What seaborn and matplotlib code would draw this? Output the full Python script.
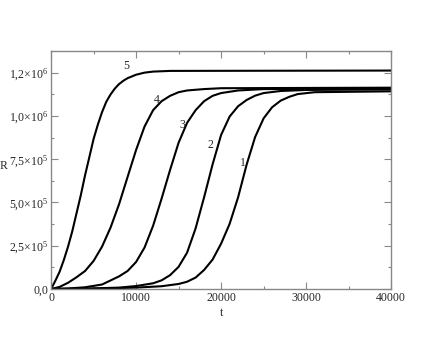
import pandas as pd
import matplotlib
matplotlib.use('Agg')
import matplotlib.pyplot as plt
import seaborn as sns
from matplotlib.ticker import MultipleLocator, FixedLocator, FixedFormatter

# curves (t, R)
t1 = [0, 5000, 10000, 13000, 15000, 16000, 17000, 18000, 19000, 20000, 21000, 22000,
      23000, 24000, 25000, 26000, 27000, 28000, 29000, 31000, 40000]
r1 = [0, 2e3, 8e3, 16e3, 29e3, 42e3, 66e3, 110e3, 170e3, 262e3, 376e3, 530e3,
      718e3, 878e3, 986e3, 1050e3, 1088e3, 1110e3, 1126e3, 1137e3, 1142e3]

t2 = [0, 4000, 8000, 10000, 12000, 13000, 14000, 15000, 16000, 17000, 18000, 19000,
      20000, 21000, 22000, 23000, 24000, 25000, 27000, 30000, 40000]
r2 = [0, 2e3, 8e3, 17e3, 33e3, 50e3, 80e3, 128e3, 210e3, 350e3, 530e3, 720e3,
      890e3, 996e3, 1056e3, 1092e3, 1117e3, 1132e3, 1144e3, 1150e3, 1153e3]

t3 = [0, 2000, 4000, 6000, 8000, 9000, 10000, 11000, 12000, 13000, 14000, 15000,
      16000, 17000, 18000, 19000, 20000, 22000, 25000, 40000]
r3 = [0, 3e3, 10e3, 26e3, 73e3, 104e3, 156e3, 240e3, 365e3, 522e3, 688e3, 845e3,
      960e3, 1033e3, 1085e3, 1116e3, 1132e3, 1147e3, 1155e3, 1158e3]

t4 = [0, 1000, 2000, 3000, 4000, 5000, 6000, 7000, 8000, 9000, 10000, 11000,
      12000, 13000, 14000, 15000, 16000, 18000, 20000, 40000]
r4 = [0, 12e3, 36e3, 68e3, 104e3, 162e3, 245e3, 355e3, 490e3, 647e3, 803e3, 939e3,
      1033e3, 1085e3, 1116e3, 1137e3, 1147e3, 1155e3, 1160e3, 1163e3]

t5 = [0, 500, 1000, 1500, 2000, 2500, 3000, 3500, 4000, 4500, 5000, 5500, 6000,
      6500, 7000, 7500, 8000, 8500, 9000, 10000, 11000, 12000, 14000, 40000]
r5 = [0, 47e3, 99e3, 167e3, 245e3, 334e3, 438e3, 542e3, 657e3, 761e3, 866e3, 949e3,
      1022e3, 1082e3, 1124e3, 1158e3, 1184e3, 1203e3, 1218e3, 1238e3, 1250e3, 1256e3,
      1260e3, 1262e3]

curve_names = ['1', '2', '3', '4', '5']
label_t = [22600, 18700, 15500, 12400, 8900]
label_r = [728e3, 834e3, 948e3, 1091e3, 1286e3]

ytick_vals = [0, 2.5e5, 5e5, 7.5e5, 1e6, 1.25e6]
ytick_text = ['0,0', '2,5\u00d710$^{5}$', '5,0\u00d710$^{5}$', '7,5\u00d710$^{5}$',
              '1,0\u00d710$^{6}$', '1,2\u00d710$^{6}$']

sns.set_style('ticks')
plt.rcParams['font.family'] = ['Liberation Serif', 'DejaVu Serif']
plt.rcParams['mathtext.fontset'] = 'custom'
plt.rcParams['mathtext.rm'] = 'Liberation Serif'
plt.rcParams['mathtext.it'] = 'Liberation Serif:italic'

fig = plt.figure(figsize=(4.4, 3.4), dpi=100)
ax = fig.add_axes([0.116, 0.15, 0.773, 0.70])

for tt, rr in zip([t1, t2, t3, t4, t5], [r1, r2, r3, r4, r5]):
    df = pd.DataFrame({'t': tt, 'R': rr})
    sns.lineplot(data=df, x='t', y='R', color='black', linewidth=1.5, ax=ax)

for name, x, y in zip(curve_names, label_t, label_r):
    ax.text(x, y, name, fontsize=8.5, ha='center', va='center')

ax.set_xlim(0, 40000)
ax.set_ylim(0, 1.375e6)
ax.xaxis.set_major_locator(MultipleLocator(10000))
ax.xaxis.set_minor_locator(MultipleLocator(5000))
ax.yaxis.set_major_locator(FixedLocator(ytick_vals))
ax.yaxis.set_major_formatter(FixedFormatter(ytick_text))
ax.yaxis.set_minor_locator(MultipleLocator(1.25e5))

ax.tick_params(which='both', direction='in', top=True, right=True,
               color='#888888', labelsize=8.5, pad=2)
ax.tick_params(which='major', length=5, width=0.8)
ax.tick_params(which='minor', length=2.5, width=0.8)
for s in ax.spines.values():
    s.set_color('#888888')
    s.set_linewidth(1.0)

ax.set_xlabel('t', fontsize=8.5)
ax.set_ylabel('R', fontsize=8.5, rotation=0)
ax.xaxis.set_label_coords(0.5, -0.075)
ax.yaxis.set_label_coords(-0.14, 0.49)

fig.savefig('out.png', dpi=100)
